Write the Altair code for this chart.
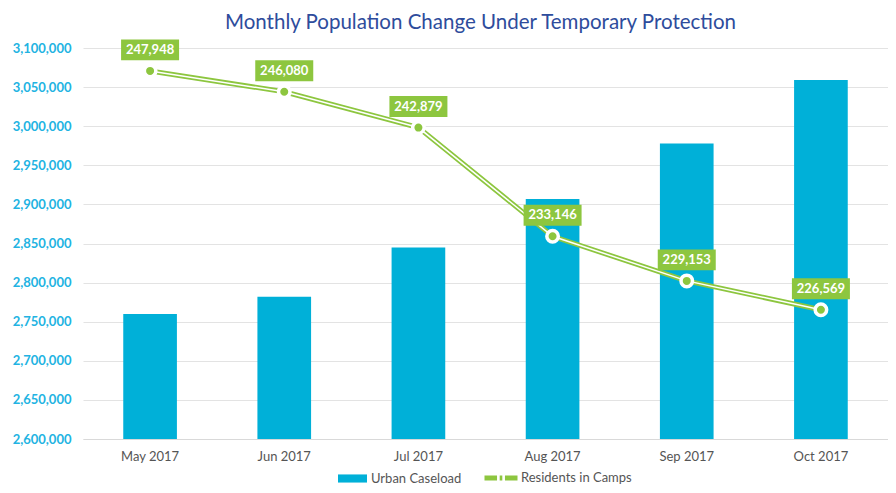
import altair as alt
import pandas as pd

months = ["May 2017", "Jun 2017", "Jul 2017", "Aug 2017", "Sep 2017", "Oct 2017"]
urban_caseload = [2760000, 2782000, 2845000, 2907000, 2978000, 3059000]
residents_in_camps = [247948, 246080, 242879, 233146, 229153, 226569]
y_ticks = list(range(2600000, 3100001, 50000))

BLUE = "#00B0D8"
GREEN = "#8DC63F"
AXIS_BLUE = "#22B3E2"
TITLE_BLUE = "#2E4C9C"
GREY_TEXT = "#555555"

df = pd.DataFrame({
    "month": months,
    "urban": urban_caseload,
    "camps": residents_in_camps,
    "bar_series": "Urban Caseload",
    "line_series": "Residents in Camps",
})
df["label"] = [f"{v:,}" for v in residents_in_camps]

x = alt.X(
    "month:N", sort=months, title=None,
    scale=alt.Scale(paddingInner=0.6, paddingOuter=0.3),
    axis=alt.Axis(labelAngle=0, ticks=False, grid=False, domainColor="#d9d9d9",
                  labelColor=GREY_TEXT, labelFont="Lato", labelFontSize=13,
                  labelPadding=11),
)

base = alt.Chart(df)

bars = base.mark_bar(clip=True).encode(
    x=x,
    y=alt.Y(
        "urban:Q", title=None,
        scale=alt.Scale(domain=[2600000, 3100000], zero=False, nice=False),
        axis=alt.Axis(values=y_ticks, format=",.0f", ticks=False, domain=False,
                      labelColor=AXIS_BLUE, labelFont="Lato", labelFontSize=13,
                      labelFontWeight="bold", labelPadding=12,
                      gridColor="#e3e3e3", gridWidth=1.2,
                      minExtent=70, maxExtent=70),
    ),
    y2=alt.datum(2600000),
    fill=alt.Fill(
        "bar_series:N",
        scale=alt.Scale(domain=["Urban Caseload"], range=[BLUE]),
        legend=alt.Legend(title=None, orient="none", legendX=255, legendY=416,
                          symbolType="M-1,-0.28L1,-0.28L1,0.28L-1,0.28Z",
                          symbolSize=841, symbolStrokeWidth=0,
                          labelFont="Lato", labelFontSize=13,
                          labelColor=GREY_TEXT, labelOffset=4),
    ),
)

y2 = alt.Y("camps:Q", title=None,
           scale=alt.Scale(domain=[215000, 250000], zero=False, nice=False),
           axis=None)

line_g = base.mark_line(strokeWidth=5).encode(
    x=x, y=y2,
    stroke=alt.Stroke(
        "line_series:N",
        scale=alt.Scale(domain=["Residents in Camps"], range=[GREEN]),
        legend=alt.Legend(title=None, orient="none", legendX=399, legendY=411,
                          symbolType="M-1,0L-0.24,0M-0.08,0L0.08,0M0.24,0L1,0",
                          symbolSize=1089, symbolStrokeWidth=5,
                          labelFont="Lato", labelFontSize=13,
                          labelColor=GREY_TEXT, labelOffset=1),
    ),
)
line_w = base.mark_line(strokeWidth=1.5, color="white").encode(x=x, y=y2)
points = base.mark_circle(color=GREEN, opacity=1, stroke="white",
                          strokeWidth=3.5, size=132).encode(x=x, y=y2)
boxes = base.mark_point(shape="M-1,-0.36L1,-0.36L1,0.36L-1,0.36Z", filled=True,
                        color=GREEN, opacity=1, size=3364, strokeWidth=0,
                        yOffset=-21).encode(x=x, y=y2)
texts = base.mark_text(color="white", font="Lato", fontSize=13, fontWeight="bold",
                       baseline="middle", yOffset=-21).encode(x=x, y=y2, text="label:N")

line_layer = alt.layer(line_g, line_w, points, boxes, texts)

chart = alt.layer(bars, line_layer).resolve_scale(y="independent").properties(
    width=805, height=391,
    title=alt.TitleParams(
        "Monthly Population Change Under Temporary Protection",
        font="Lato", fontSize=20.5, fontWeight="normal", color=TITLE_BLUE,
        anchor="middle", offset=6, dx=-5,
    ),
    autosize=alt.AutoSizeParams(type="none"),
    padding={"left": 75, "top": 40, "right": 0, "bottom": 46},
).configure_view(stroke=None)

chart.save("out.html", embed_options={"renderer": "svg", "actions": False})
